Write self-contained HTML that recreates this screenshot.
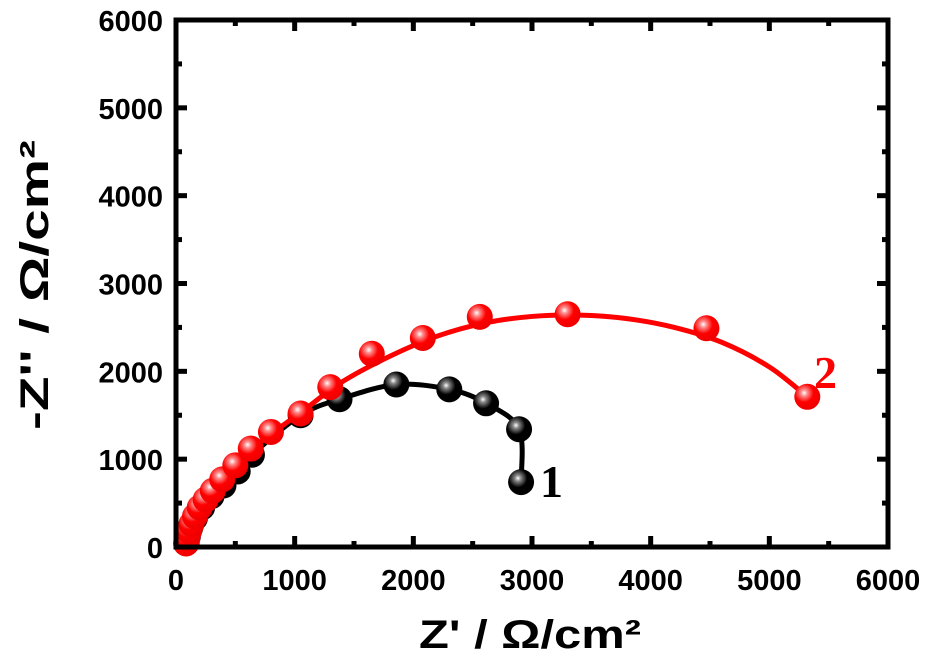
<!DOCTYPE html>
<html><head><meta charset="utf-8"><style>
html,body{margin:0;padding:0;background:#fff;}
</style></head><body>
<svg id="chart" width="930" height="668" viewBox="0 0 930 668" xmlns="http://www.w3.org/2000/svg" style="position:absolute;left:0;top:0">
<defs>
<radialGradient id="gb" cx="0.38" cy="0.35" r="0.65"><stop offset="0" stop-color="#fff"/><stop offset="0.18" stop-color="#888"/><stop offset="0.55" stop-color="#000"/><stop offset="1" stop-color="#000"/></radialGradient>
<radialGradient id="gr" cx="0.38" cy="0.35" r="0.65"><stop offset="0" stop-color="#fff"/><stop offset="0.2" stop-color="#f88"/><stop offset="0.55" stop-color="#f00"/><stop offset="1" stop-color="#e00"/></radialGradient>
</defs>
<g id="plot"></g>
<text x="530" y="648" text-anchor="middle" font-size="40" textLength="222" lengthAdjust="spacingAndGlyphs" style="font-family:'Liberation Sans',sans-serif;font-weight:bold">Z' / Ω/cm²</text>
<text transform="translate(48,285) rotate(-90)" text-anchor="middle" font-size="40" textLength="290" lengthAdjust="spacingAndGlyphs" style="font-family:'Liberation Sans',sans-serif;font-weight:bold">-Z'' / Ω/cm²</text>
<text x="540" y="497" font-size="46" fill="#000" style="font-family:'Liberation Serif',serif;font-weight:bold">1</text>
<text x="814" y="388" font-size="46" fill="#f00" style="font-family:'Liberation Serif',serif;font-weight:bold">2</text>
</svg>
<script>
const xTicks=[0,1000,2000,3000,4000,5000,6000];
const yTicks=[0,1000,2000,3000,4000,5000,6000];
const s1x=[90,100,120,160,220,300,400,520,640,1050,1378,1857,2303,2613,2891,2908];
const s1y=[50,120,220,330,450,580,700,860,1050,1500,1682,1850,1795,1636,1341,739];
const s2x=[85,95,110,130,160,200,250,310,390,500,630,800,1050,1300,1650,2080,2560,3300,4470,5320];
const s2y=[40,100,180,260,350,450,540,640,770,930,1120,1310,1520,1820,2200,2380,2620,2650,2490,1710];
const fit2x=[85,200,400,700,1050,1400,1800,2200,2600,3000,3400,3800,4200,4600,5000,5320];
const fit2y=[40,450,800,1180,1530,1880,2170,2400,2550,2625,2640,2600,2500,2330,2050,1710];
const X0=176,X1=888,Y0=547,Y1=20;
const xs=v=>X0+(X1-X0)*v/6000, ys=v=>Y0-(Y0-Y1)*v/6000;
const NS="http://www.w3.org/2000/svg";const g=document.getElementById('plot');
function mk(t,a,p){const e=document.createElementNS(NS,t);for(const k in a)e.setAttribute(k,a[k]);(p||g).appendChild(e);return e;}
function path(xa,ya){const P=xa.map((x,i)=>[xs(x),ys(ya[i])]);let d='M'+P[0][0]+','+P[0][1];
for(let i=0;i<P.length-1;i++){const p0=P[i-1]||P[i],p1=P[i],p2=P[i+1],p3=P[i+2]||P[i+1];
d+=' C'+(p1[0]+(p2[0]-p0[0])/6)+','+(p1[1]+(p2[1]-p0[1])/6)+' '+(p2[0]-(p3[0]-p1[0])/6)+','+(p2[1]-(p3[1]-p1[1])/6)+' '+p2[0]+','+p2[1];}return d;}
let l1=mk('path',{d:path(s1x,s1y),fill:'none',stroke:'#000','stroke-width':5});


s1x.forEach((x,i)=>{const c=mk('circle',{cx:xs(x),cy:ys(s1y[i]),r:13,fill:'url(#gb)'});

});
let l2=mk('path',{d:path(fit2x,fit2y),fill:'none',stroke:'#f00','stroke-width':5});


s2x.forEach((x,i)=>{const c=mk('circle',{cx:xs(x),cy:ys(s2y[i]),r:13,fill:'url(#gr)'});

});
let fr=mk('rect',{x:X0,y:Y1,width:X1-X0,height:Y0-Y1,fill:'none',stroke:'#000','stroke-width':5});


const TS="font-family:'Liberation Sans',sans-serif;font-weight:bold";
xTicks.forEach((v,i)=>{const x=xs(v);
mk('line',{x1:x,y1:Y0,x2:x,y2:Y0-11,stroke:'#000','stroke-width':5});
mk('line',{x1:x,y1:Y1,x2:x,y2:Y1+11,stroke:'#000','stroke-width':5});
if(i<xTicks.length-1){const xm=xs(v+500);mk('line',{x1:xm,y1:Y0,x2:xm,y2:Y0-6,stroke:'#000','stroke-width':5});mk('line',{x1:xm,y1:Y1,x2:xm,y2:Y1+6,stroke:'#000','stroke-width':5});}
const t=mk('text',{x:x,y:590,'text-anchor':'middle','font-size':29,style:TS});t.textContent=v;

});
yTicks.forEach((v,i)=>{const y=ys(v);
mk('line',{x1:X0,y1:y,x2:X0+11,y2:y,stroke:'#000','stroke-width':5});
mk('line',{x1:X1,y1:y,x2:X1-11,y2:y,stroke:'#000','stroke-width':5});
if(i<yTicks.length-1){const ym=ys(v+500);mk('line',{x1:X0,y1:ym,x2:X0+6,y2:ym,stroke:'#000','stroke-width':5});mk('line',{x1:X1,y1:ym,x2:X1-6,y2:ym,stroke:'#000','stroke-width':5});}
const t=mk('text',{x:163,y:y+11,'text-anchor':'end','font-size':29,style:TS});t.textContent=v;

});
</script>
</body></html>
